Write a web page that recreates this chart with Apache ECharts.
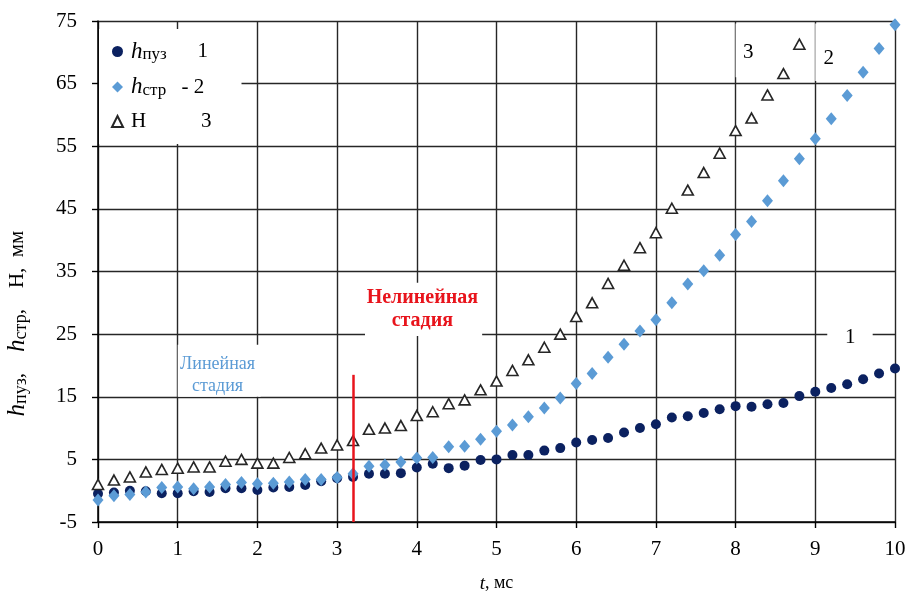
<!DOCTYPE html>
<html>
<head>
<meta charset="utf-8">
<script src="https://cdn.jsdelivr.net/npm/echarts@6/dist/echarts.min.js"></script>
<style>
  html, body { margin: 0; padding: 0; background: #fff; }
  #chart { width: 908px; height: 594px; }
</style>
</head>
<body>
<div id="chart"></div>
<script>
// Time samples, ms
const timeMs = [0, 0.2, 0.4, 0.6, 0.8, 1, 1.2, 1.4, 1.6, 1.8, 2, 2.2, 2.4, 2.6, 2.8, 3, 3.2, 3.4, 3.6, 3.8,
  4, 4.2, 4.4, 4.6, 4.8, 5, 5.2, 5.4, 5.6, 5.8, 6, 6.2, 6.4, 6.6, 6.8, 7, 7.2, 7.4, 7.6, 7.8,
  8, 8.2, 8.4, 8.6, 8.8, 9, 9.2, 9.4, 9.6, 9.8, 10];

// Bubble height h_пуз, mm (curve 1)
const hPuz = [-0.5, -0.3, 0.0, -0.1, -0.4, -0.4, -0.1, -0.2, 0.4, 0.4, 0.1, 0.5, 0.6, 0.9, 1.5, 2.0, 2.2, 2.7, 2.7, 2.8,
  3.7, 4.3, 3.6, 4.0, 4.9, 5.0, 5.7, 5.7, 6.4, 6.8, 7.7, 8.1, 8.4, 9.3, 10.0, 10.6, 11.7, 11.9, 12.4, 13.0,
  13.5, 13.4, 13.8, 14.0, 15.1, 15.8, 16.4, 17.0, 17.8, 18.7, 19.5];

// Jet height h_стр, mm (curve 2)
const hStr = [-1.5, -0.8, -0.6, -0.2, 0.5, 0.6, 0.3, 0.6, 1.0, 1.3, 1.1, 1.2, 1.4, 1.8, 1.8, 2.1, 2.7, 3.9, 4.1, 4.6,
  5.2, 5.3, 7.0, 7.1, 8.2, 9.5, 10.5, 11.8, 13.2, 14.8, 17.1, 18.7, 21.3, 23.4, 25.5, 27.3, 30.0, 33.0, 35.1, 37.6,
  40.9, 43.0, 46.3, 49.5, 53.0, 56.2, 59.4, 63.1, 66.8, 70.6, 74.4];

// Total height H, mm (curve 3), measured up to 8.8 ms
const heightH = [1.0, 1.7, 2.2, 3.0, 3.4, 3.6, 3.8, 3.8, 4.7, 5.0, 4.4, 4.4, 5.3, 5.9, 6.8, 7.3, 8.0, 9.8, 10.0, 10.4,
  12.0, 12.6, 13.9, 14.5, 16.1, 17.5, 19.2, 20.9, 22.9, 25.0, 27.8, 30.0, 33.1, 36.0, 38.8, 41.2, 45.1, 48.0, 50.8, 53.9,
  57.5, 59.5, 63.2, 66.6, 71.3];

// Axis ranges
const xTicks = { min: 0, max: 10, step: 1 };
const yTicks = { min: -5, max: 75, step: 10 };

// Boundary between the linear and nonlinear stages, ms
const stageBoundary = 3.2;
const stageLineTop = 18.5;

const serif = "'Liberation Serif', 'Times New Roman', serif";
const gridColor = '#262626';

function pairs(xs, ys) {
  return ys.map((v, i) => [xs[i], v]);
}

const chart = echarts.init(document.getElementById('chart'), null, { renderer: 'canvas' });

const names = ['hpuz', 'hstr', 'H'];
const legendText = {
  hpuz: '{i|h}{s1|пуз}{n|1}',
  hstr: '{i|h}{s2|стр}{n|- 2}',
  H: '{r|Н}{n|3}'
};

chart.setOption({
  backgroundColor: '#fff',
  animation: false,
  grid: { left: 98, right: 13, top: 21, bottom: 72, containLabel: false, outerBoundsMode: 'none' },
  xAxis: {
    type: 'value',
    min: xTicks.min, max: xTicks.max, interval: xTicks.step,
    name: '{i|t}{r|, мс}',
    nameLocation: 'middle',
    nameGap: 52,
    nameTextStyle: {
      fontFamily: serif, fontSize: 18, color: '#000',
      rich: {
        i: { fontFamily: serif, fontSize: 19, fontStyle: 'italic', color: '#000' },
        r: { fontFamily: serif, fontSize: 18, color: '#000' }
      }
    },
    axisLine: { show: true, onZero: false, lineStyle: { color: '#000', width: 1.5 } },
    axisTick: { show: true, length: 6, lineStyle: { color: '#000', width: 1.4 } },
    axisLabel: { fontFamily: serif, fontSize: 21, color: '#000', margin: 17 },
    splitLine: { show: true, lineStyle: { color: gridColor, width: 1.4 } }
  },
  yAxis: {
    type: 'value',
    min: yTicks.min, max: yTicks.max, interval: yTicks.step,
    name: '{i|h}{s|пуз}{r|,    }{i|h}{s|стр}{r|,    Н,  мм}',
    nameLocation: 'middle',
    nameRotate: 90,
    nameGap: 68,
    nameTextStyle: {
      fontFamily: serif, fontSize: 21, color: '#000',
      padding: [0, 104, 0, 0],
      rich: {
        i: { fontFamily: serif, fontSize: 25, fontStyle: 'italic', color: '#000', lineHeight: 26, verticalAlign: 'middle' },
        s: { fontFamily: serif, fontSize: 18, color: '#000', lineHeight: 16, verticalAlign: 'bottom' },
        r: { fontFamily: serif, fontSize: 21, color: '#000', lineHeight: 26, verticalAlign: 'middle' }
      }
    },
    axisLine: { show: true, onZero: false, lineStyle: { color: '#000', width: 1.5 } },
    axisTick: { show: true, length: 6, lineStyle: { color: '#000', width: 1.4 } },
    axisLabel: { fontFamily: serif, fontSize: 21, color: '#000', margin: 21 },
    splitLine: { show: true, lineStyle: { color: gridColor, width: 1.4 } }
  },
  legend: {
    orient: 'vertical',
    left: 99, top: 29,
    backgroundColor: '#fff',
    padding: [11, 30, 12, 12],
    itemWidth: 11, itemHeight: 11,
    itemGap: 12,
    selectedMode: false,
    data: names,
    formatter: n => legendText[n],
    textStyle: {
      fontFamily: serif, fontSize: 21, color: '#000',
      rich: {
        i: { fontFamily: serif, fontSize: 23, fontStyle: 'italic', color: '#000', lineHeight: 24, verticalAlign: 'middle', padding: [0, 0, 0, 3] },
        s1: { fontFamily: serif, fontSize: 17, color: '#000', lineHeight: 15, verticalAlign: 'bottom', width: 55 },
        s2: { fontFamily: serif, fontSize: 17, color: '#000', lineHeight: 15, verticalAlign: 'bottom', width: 39 },
        r: { fontFamily: serif, fontSize: 21, color: '#000', lineHeight: 24, verticalAlign: 'middle', width: 70, padding: [0, 0, 0, 3] },
        n: { fontFamily: serif, fontSize: 21, color: '#000', lineHeight: 24, verticalAlign: 'middle' }
      }
    }
  },
  series: [
    {
      name: 'hpuz',
      type: 'scatter',
      symbol: 'circle',
      symbolSize: 10,
      itemStyle: { color: '#0b2160', opacity: 1 },
      data: pairs(timeMs, hPuz),
      markLine: {
        silent: true,
        symbol: ['none', 'none'],
        label: { show: false },
        lineStyle: { color: '#e8141c', width: 2.5, type: 'solid' },
        data: [[{ coord: [stageBoundary, stageLineTop] }, { coord: [stageBoundary, yTicks.min] }]]
      }
    },
    {
      name: 'hstr',
      type: 'scatter',
      symbol: 'diamond',
      symbolSize: [11, 13],
      itemStyle: { color: '#5b9bd5', opacity: 1 },
      data: pairs(timeMs, hStr)
    },
    {
      name: 'H',
      type: 'scatter',
      symbol: 'triangle',
      symbolSize: [11, 10],
      itemStyle: { color: '#fff', borderColor: '#262626', borderWidth: 1.6, opacity: 1 },
      data: pairs(timeMs, heightH)
    }
  ]
});

// Text annotations placed in data coordinates, each on a white patch that breaks the grid
function px(t, v) { return chart.convertToPixel({ gridIndex: 0 }, [t, v]); }

const notes = [
  { box: [1.0, 23.3, 2.04, 15.0], at: [1.5, 18.4], text: 'Линейная\nстадия', color: '#5b9bd5', weight: 'normal', size: 18, lh: 22 },
  { box: [3.35, 33.2, 4.82, 24.7], at: [4.07, 29.0], text: 'Нелинейная\nстадия', color: '#e8141c', weight: 'bold', size: 20, lh: 23 },
  { box: [8.0, 74.6, 8.33, 66.0], at: [8.16, 70.0], text: '3', color: '#000', weight: 'normal', size: 21, lh: 22 },
  { box: [9.0, 74.6, 9.33, 65.4], at: [9.17, 69.0], text: '2', color: '#000', weight: 'normal', size: 21, lh: 22 },
  { box: [9.15, 26.4, 9.72, 22.6], at: [9.44, 24.4], text: '1', color: '#000', weight: 'normal', size: 21, lh: 22 }
];

const graphics = [];
notes.forEach(n => {
  const a = px(n.box[0], n.box[1]);
  const b = px(n.box[2], n.box[3]);
  graphics.push({
    type: 'rect', z: 1, silent: true,
    shape: { x: a[0], y: a[1], width: b[0] - a[0], height: b[1] - a[1] },
    style: { fill: '#fff' }
  });
  const c = px(n.at[0], n.at[1]);
  graphics.push({
    type: 'text', z: 3, silent: true,
    x: c[0], y: c[1],
    style: {
      text: n.text, fill: n.color, align: 'center', verticalAlign: 'middle',
      fontFamily: serif, fontSize: n.size, fontWeight: n.weight, lineHeight: n.lh
    }
  });
});
chart.setOption({ graphic: graphics });
</script>
</body>
</html>
